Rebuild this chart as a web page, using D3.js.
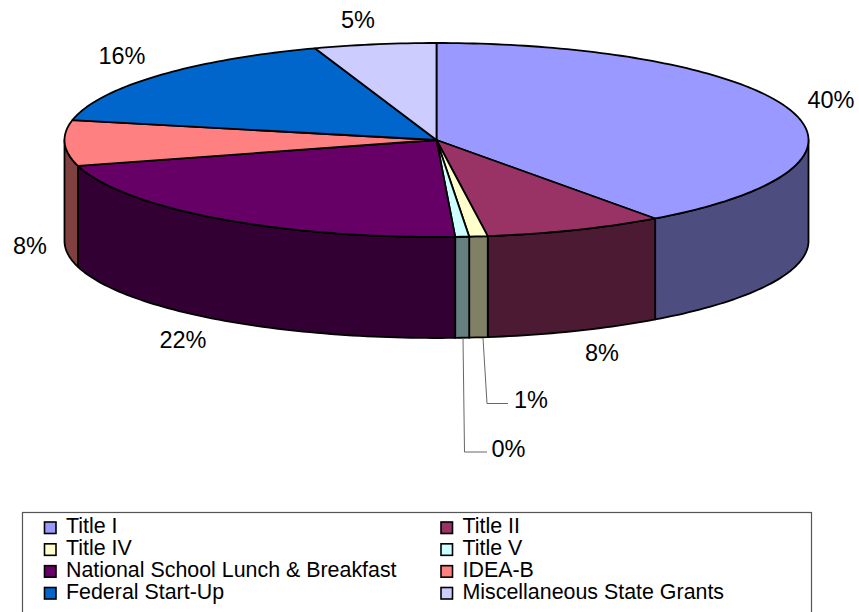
<!DOCTYPE html>
<html>
<head>
<meta charset="utf-8">
<script src="https://cdn.jsdelivr.net/npm/d3@7"></script>
<style>
  body { margin: 0; background: #fff; overflow: hidden; }
  svg { display: block; }
  text { font-family: "Liberation Sans", Arial, sans-serif; fill: #000; }
</style>
</head>
<body>
<svg id="chart" width="859" height="612"></svg>
<script>
// Data
const categories = ["Title I", "Title II", "Title IV", "Title V", "National School Lunch & Breakfast", "IDEA-B", "Federal Start-Up", "Miscellaneous State Grants"];
const values = [40, 7.8, 0.8, 0.6, 21.5, 7.6, 16.4, 5.3];
const valueLabels = ["40%", "8%", "1%", "0%", "22%", "8%", "16%", "5%"];
const topColors = ["#9999ff", "#993366", "#ffffcc", "#ccffff", "#660066", "#ff8080", "#0066cc", "#ccccff"];
const sideColors = ["#4d4d80", "#4d1a33", "#808066", "#668080", "#330033", "#804040", "#003366", "#666680"];

// Where the labels go, one per slice
const labelPos = [[831, 102], [602, 355], [531, 402], [508.5, 451], [183, 342], [30, 248], [122, 58], [358, 22]];
// Leader lines for the two thin slices
const leaders = [
  { from: [483, 338], mid: [487, 403.5], to: [508, 403.5] },
  { from: [463, 338], mid: [464.5, 452], to: [487, 452] }
];

const svg = d3.select("#chart");
const cx = 436.5, cy = 140, rx = 372, ry = 97, depth = 101;

// unit circle to page
const x = d3.scaleLinear().domain([-1, 1]).range([cx - rx, cx + rx]);
const y = d3.scaleLinear().domain([-1, 1]).range([cy - ry, cy + ry]);

const pie = d3.pie().sort(null).value(d => d);
const slices = pie(values);

const rimPoint = a => [x(Math.sin(a)), y(-Math.cos(a))];

function arcPoints(a0, a1) {
  const n = Math.max(2, Math.ceil((a1 - a0) / 0.02));
  return d3.range(n + 1).map(i => rimPoint(a0 + (a1 - a0) * i / n));
}

const line = d3.line();

// Walls, only the part of the rim that faces the viewer
const wallG = svg.append("g");
slices.forEach((s, i) => {
  const a0 = Math.max(s.startAngle, Math.PI / 2);
  const a1 = Math.min(s.endAngle, Math.PI * 1.5);
  if (a1 <= a0) return;
  const top = arcPoints(a0, a1);
  const bottom = top.map(p => [p[0], p[1] + depth]).reverse();
  wallG.append("path")
    .attr("d", line(top.concat(bottom)) + "Z")
    .attr("fill", sideColors[i])
    .attr("stroke", "#000")
    .attr("stroke-width", 1.8)
    .attr("stroke-linejoin", "round");
});

// Top of the pie
const topG = svg.append("g");
slices.forEach((s, i) => {
  topG.append("path")
    .attr("d", line([[cx, cy]].concat(arcPoints(s.startAngle, s.endAngle))) + "Z")
    .attr("fill", topColors[i])
    .attr("stroke", "#000")
    .attr("stroke-width", 1.8)
    .attr("stroke-linejoin", "round");
});

// Leader lines
leaders.forEach(d => {
  svg.append("path")
    .attr("d", line([d.from, d.mid, d.to]))
    .attr("fill", "none")
    .attr("stroke", "#666")
    .attr("stroke-width", 1);
});

// Value labels
svg.selectAll("text.value")
  .data(valueLabels)
  .join("text")
  .attr("class", "value")
  .attr("x", (d, i) => labelPos[i][0])
  .attr("y", (d, i) => labelPos[i][1])
  .attr("text-anchor", "middle")
  .attr("dominant-baseline", "middle")
  .attr("font-size", 23.5)
  .text(d => d);

// Legend, the box runs off the bottom of the picture
const legendX = 22, legendY = 512, legendW = 789, legendH = 120;
svg.append("rect")
  .attr("x", legendX + 0.5)
  .attr("y", legendY + 0.5)
  .attr("width", legendW)
  .attr("height", legendH)
  .attr("fill", "#fff")
  .attr("stroke", "#555")
  .attr("stroke-width", 1.2);

const colX = d3.scaleOrdinal().domain([0, 1]).range([44.5, 441]);
const rowY = d3.scaleLinear().domain([0, 3]).range([527.5, 593]);

const legend = svg.selectAll("g.legend")
  .data(categories)
  .join("g")
  .attr("class", "legend")
  .attr("transform", (d, i) => "translate(" + colX(i % 2) + "," + rowY(Math.floor(i / 2)) + ")");

legend.append("rect")
  .attr("x", 0)
  .attr("y", -5.5)
  .attr("width", 11.5)
  .attr("height", 11.5)
  .attr("fill", (d, i) => topColors[i])
  .attr("stroke", "#000")
  .attr("stroke-width", 1.6);

legend.append("text")
  .attr("x", 21.5)
  .attr("y", 0)
  .attr("dominant-baseline", "middle")
  .attr("font-size", 21.4)
  .text(d => d);
</script>
</body>
</html>
